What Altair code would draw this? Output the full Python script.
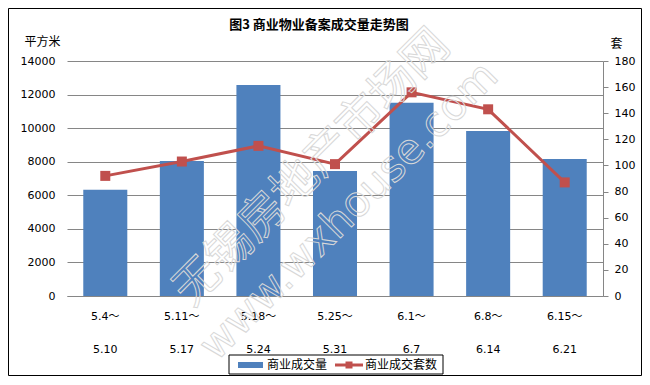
import altair as alt
import pandas as pd

# ---- data ----
period_start = ["5.4～", "5.11～", "5.18～", "5.25～", "6.1～", "6.8～", "6.15～"]
period_end = ["5.10", "5.17", "5.24", "5.31", "6.7", "6.14", "6.21"]
area_sqm = [6330, 8040, 12570, 7450, 11520, 9830, 8160]
units_sold = [92, 103, 115, 101, 156, 143, 87]
series_names = ["商业成交量", "商业成交套数"]
title_text = "图3 商业物业备案成交量走势图"
left_unit = "平方米"
right_unit = "套"
left_ticks = [0, 2000, 4000, 6000, 8000, 10000, 12000, 14000]
right_ticks = [0, 20, 40, 60, 80, 100, 120, 140, 160, 180]
watermark = ["无锡房地产市场网", "www.wxhouse.com"]

BLUE = "#4F81BD"
RED = "#C0504D"
GRID = "#868686"
CJK = "Noto Sans CJK SC"
NUM = "DejaVu Sans, Noto Sans CJK SC"
WM = "#d8d8d8"

df = pd.DataFrame({
    "period": [s + "|" + e for s, e in zip(period_start, period_end)],
    "area": area_sqm,
    "units": units_sold,
})

x_enc = alt.X(
    "period:N", sort=None,
    scale=alt.Scale(paddingInner=0.425, paddingOuter=0.2125),
    axis=alt.Axis(
        title=None, labelAngle=0, labelExpr="split(datum.label, '|')",
        ticks=False, tickSize=0, labelPadding=14, labelLineHeight=33,
        labelFont=NUM, labelFontSize=11, labelColor="black",
        domainColor=GRID, domainWidth=1,
    ),
)

bars = alt.Chart(df).mark_bar(color=BLUE).encode(
    x=x_enc,
    y=alt.Y(
        "area:Q",
        scale=alt.Scale(domain=[0, 14000], nice=False),
        axis=alt.Axis(
            values=left_ticks, format="d", grid=True, gridColor=GRID, gridWidth=1,
            domain=False, ticks=False, tickSize=0, labelPadding=12,
            labelFont=NUM, labelFontSize=11, labelColor="black",
            title=left_unit, titleAngle=0, titleX=-25, titleY=-20,
            titleAlign="center", titleBaseline="middle", titleFont=CJK,
            titleFontSize=12, titleFontWeight="normal", titleColor="black",
        ),
    ),
)

line = alt.Chart(df).mark_line(
    color=RED, strokeWidth=3,
    point=alt.OverlayMarkDef(shape="square", size=100, filled=True, color=RED, opacity=1),
).encode(
    x=x_enc,
    y=alt.Y(
        "units:Q",
        scale=alt.Scale(domain=[0, 180], nice=False),
        axis=alt.Axis(
            orient="right", values=right_ticks, format="d", grid=False,
            domainColor=GRID, tickColor=GRID, tickSize=5, labelPadding=6,
            labelFont=NUM, labelFontSize=11, labelColor="black",
            title=right_unit, titleAngle=0, titleX=13, titleY=-18,
            titleAlign="center", titleBaseline="middle", titleFont=CJK,
            titleFontSize=12, titleFontWeight="normal", titleColor="black",
        ),
    ),
)

one = pd.DataFrame({"k": [0]})

title = alt.Chart(pd.DataFrame({"t": [title_text]})).mark_text(
    font=CJK, fontSize=13, fontWeight="bold", color="black",
    align="center", baseline="middle",
).encode(x=alt.value(252), y=alt.value(-36), text="t:N")

wm1 = alt.Chart(pd.DataFrame({"t": [watermark[0]]})).mark_text(
    font=CJK, fontSize=46, angle=315, fillOpacity=0, stroke=WM,
    strokeWidth=1, align="center", baseline="middle",
).encode(x=alt.value(245), y=alt.value(107), text="t:N")
wm2 = alt.Chart(pd.DataFrame({"t": [watermark[1]]})).mark_text(
    font="DejaVu Sans", fontSize=42, angle=315, fillOpacity=0, stroke=WM,
    strokeWidth=1, align="center", baseline="middle",
).encode(x=alt.value(282), y=alt.value(150), text="t:N")

# legend (drawn manually to reproduce bar + line/marker keys)
leg_box = alt.Chart(one).mark_rect(fill="white", stroke="black", strokeWidth=1).encode(
    x=alt.value(162), x2=alt.value(376), y=alt.value(294), y2=alt.value(313))
leg_bar = alt.Chart(one).mark_rect(color=BLUE).encode(
    x=alt.value(171), x2=alt.value(196), y=alt.value(301), y2=alt.value(307))
leg_line = alt.Chart(one).mark_rule(color=RED, strokeWidth=3).encode(
    x=alt.value(268), x2=alt.value(296), y=alt.value(304))
leg_pt = alt.Chart(one).mark_point(shape="square", size=49, filled=True, color=RED, opacity=1).encode(
    x=alt.value(282), y=alt.value(304))
leg_txt = alt.Chart(pd.DataFrame({"t": series_names, "px": [200, 298]})).mark_text(
    font=CJK, fontSize=12, color="black", align="left", baseline="middle",
).encode(x=alt.X("px:Q", scale=None), y=alt.value(304), text="t:N")

border = alt.Chart(one).mark_rect(fill=None, filled=False, stroke="black", strokeWidth=1).encode(
    x=alt.value(-58.5), x2=alt.value(574.5), y=alt.value(-52.5), y2=alt.value(314.5))

chart = alt.layer(
    bars, line, wm1, wm2, title, leg_box, leg_bar, leg_line, leg_pt, leg_txt, border
).resolve_scale(y="independent").properties(
    width=536, height=235,
    autosize=alt.AutoSizeParams(type="none"),
    padding={"left": 59, "top": 53, "right": 39, "bottom": 80},
    background="white",
).configure_view(stroke=None)

chart.save("out.html", embed_options={"renderer": "svg", "actions": False})
